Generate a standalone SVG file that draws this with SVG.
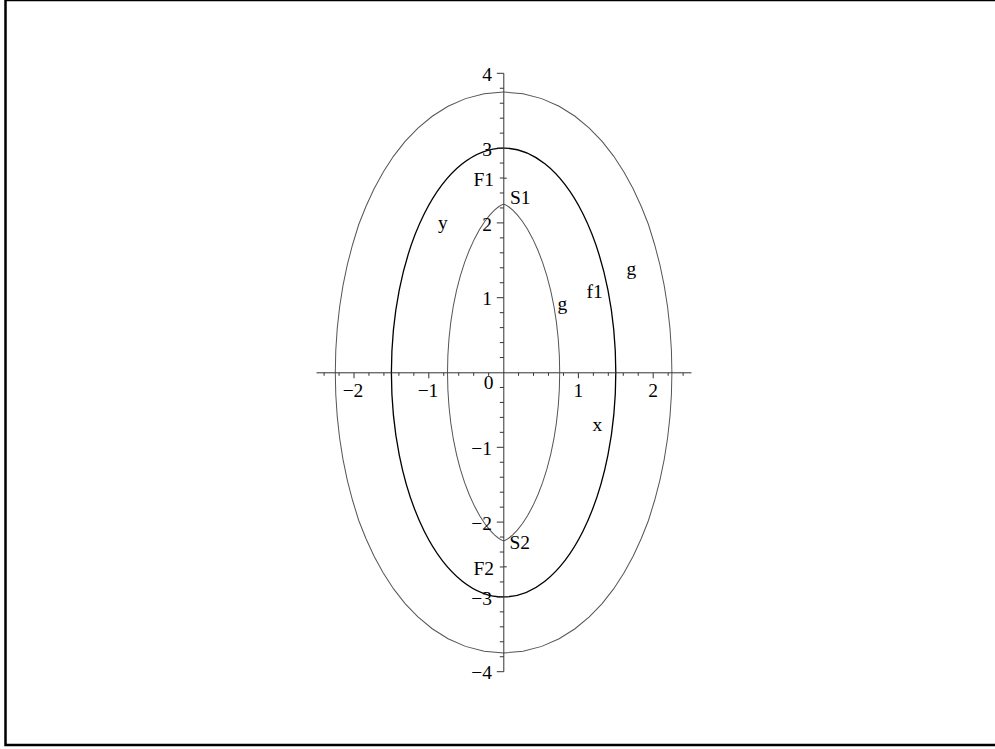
<svg xmlns="http://www.w3.org/2000/svg" xmlns:xlink="http://www.w3.org/1999/xlink" width="995" height="749" viewBox="0 0 995 749">
<style>
  .lbl { font-family: "Liberation Serif", "Times New Roman", serif; font-size: 19.5px; fill: #000; }
  .end { text-anchor: end; }
  .mid { text-anchor: middle; }
  .axis { stroke: #333; stroke-width: 1; fill: none; }
  .gcurve { stroke: #555; stroke-width: 0.0134; fill: none; }
  .fcurve { stroke: #000; stroke-width: 0.0175; fill: none; }
</style>
<defs>
  <path id="gOuterQ" d="M2.25,0 L2.2436,0.2943 L2.2243,0.5868 L2.1923,0.8761 L2.1474,1.1604 L2.0899,1.4382 L2.0196,1.7080 L1.9366,1.9786 L1.8407,2.2185 L1.7315,2.4567 L1.6085,2.6820 L1.4707,2.8933 L1.3170,3.0891 L1.1455,3.2674 L0.9544,3.4254 L0.7425,3.5589 L0.5099,3.6617 L0.2600,3.7273 L0,3.75"/>
  <path id="gInnerQ" d="M0.75,0 L0.7450,0.2287 L0.7301,0.4551 L0.7055,0.6769 L0.6717,0.8918 L0.6291,1.0976 L0.5785,1.2920 L0.5209,1.4729 L0.4575,1.6382 L0.3898,1.7859 L0.3199,1.9142 L0.2500,2.0216 L0.1831,2.1071 L0.1224,2.1705 L0.0716,2.2127 L0.0340,2.2367 L0.0110,2.2471 L0.0015,2.2498 L0,2.25"/>
</defs>
<rect id="frame" x="5.5" y="0" width="1000" height="745" fill="none" stroke="#000" stroke-width="2.5"/>
<g id="curves" transform="translate(503.6,372.5) scale(74.8,-74.8)">
  <g id="g-outer" class="gcurve">
    <use xlink:href="#gOuterQ"/>
    <use xlink:href="#gOuterQ" transform="scale(-1,1)"/>
    <use xlink:href="#gOuterQ" transform="scale(-1,-1)"/>
    <use xlink:href="#gOuterQ" transform="scale(1,-1)"/>
  </g>
  <g id="f1" class="fcurve">
    <ellipse cx="0" cy="0" rx="1.5" ry="3"/>
  </g>
  <g id="g-inner" class="gcurve">
    <use xlink:href="#gInnerQ"/>
    <use xlink:href="#gInnerQ" transform="scale(-1,1)"/>
    <use xlink:href="#gInnerQ" transform="scale(-1,-1)"/>
    <use xlink:href="#gInnerQ" transform="scale(1,-1)"/>
  </g>
</g>
<g id="axes" class="axis">
  <path d="M316.5,372.8 H691.5"/>
  <path d="M503.8,73.3 V671.7"/>
  <path d="M324.08,372.8 v3 M339.04,372.8 v3 M354,372.8 v5.5 M368.96,372.8 v3 M383.92,372.8 v3 M398.88,372.8 v3 M413.84,372.8 v3 M428.8,372.8 v5.5 M443.76,372.8 v3 M458.72,372.8 v3 M473.68,372.8 v3 M488.64,372.8 v3 M518.56,372.8 v3 M533.52,372.8 v3 M548.48,372.8 v3 M563.44,372.8 v3 M578.4,372.8 v5.5 M593.36,372.8 v3 M608.32,372.8 v3 M623.28,372.8 v3 M638.24,372.8 v3 M653.2,372.8 v5.5 M668.16,372.8 v3 M683.12,372.8 v3"/>
  <path d="M503.8,73.3 h-7 M503.8,88.26 h-4 M503.8,103.22 h-4 M503.8,118.18 h-4 M503.8,133.14 h-4 M503.8,148.1 h-7 M503.8,163.06 h-4 M503.8,178.02 h-4 M503.8,192.98 h-4 M503.8,207.94 h-4 M503.8,222.9 h-7 M503.8,237.86 h-4 M503.8,252.82 h-4 M503.8,267.78 h-4 M503.8,282.74 h-4 M503.8,297.7 h-7 M503.8,312.66 h-4 M503.8,327.62 h-4 M503.8,342.58 h-4 M503.8,357.54 h-4 M503.8,387.46 h-4 M503.8,402.42 h-4 M503.8,417.38 h-4 M503.8,432.34 h-4 M503.8,447.3 h-7 M503.8,462.26 h-4 M503.8,477.22 h-4 M503.8,492.18 h-4 M503.8,507.14 h-4 M503.8,522.1 h-7 M503.8,537.06 h-4 M503.8,552.02 h-4 M503.8,566.98 h-4 M503.8,581.94 h-4 M503.8,596.9 h-7 M503.8,611.86 h-4 M503.8,626.82 h-4 M503.8,641.78 h-4 M503.8,656.74 h-4 M503.8,671.7 h-7"/>
  <path d="M503.8,178.2 h3 M503.8,566.8 h3"/>
</g>
<g id="tick-labels">
  <text class="lbl end" x="492" y="81">4</text>
  <text class="lbl end" x="492" y="155.8">3</text>
  <text class="lbl end" x="492" y="230.6">2</text>
  <text class="lbl end" x="492" y="305.4">1</text>
  <text class="lbl end" x="492" y="455">−1</text>
  <text class="lbl end" x="492" y="529.8">−2</text>
  <text class="lbl end" x="492" y="604.6">−3</text>
  <text class="lbl end" x="492" y="679.4">−4</text>
  <text class="lbl mid" x="353" y="397.3">−2</text>
  <text class="lbl mid" x="428" y="397.3">−1</text>
  <text class="lbl end" x="493.5" y="389.3">0</text>
  <text class="lbl mid" x="578.4" y="397.3">1</text>
  <text class="lbl mid" x="653.2" y="397.3">2</text>
</g>
<g id="labels">
  <text class="lbl" x="438" y="228.5">y</text>
  <text class="lbl" x="592.5" y="430.5">x</text>
  <text class="lbl end" x="494" y="186">F1</text>
  <text class="lbl" x="510" y="204">S1</text>
  <text class="lbl" x="509.5" y="549.3">S2</text>
  <text class="lbl end" x="494" y="575">F2</text>
  <text class="lbl" x="557.5" y="310">g</text>
  <text class="lbl" x="586.5" y="298.3">f1</text>
  <text class="lbl" x="626.5" y="275">g</text>
</g>
</svg>
